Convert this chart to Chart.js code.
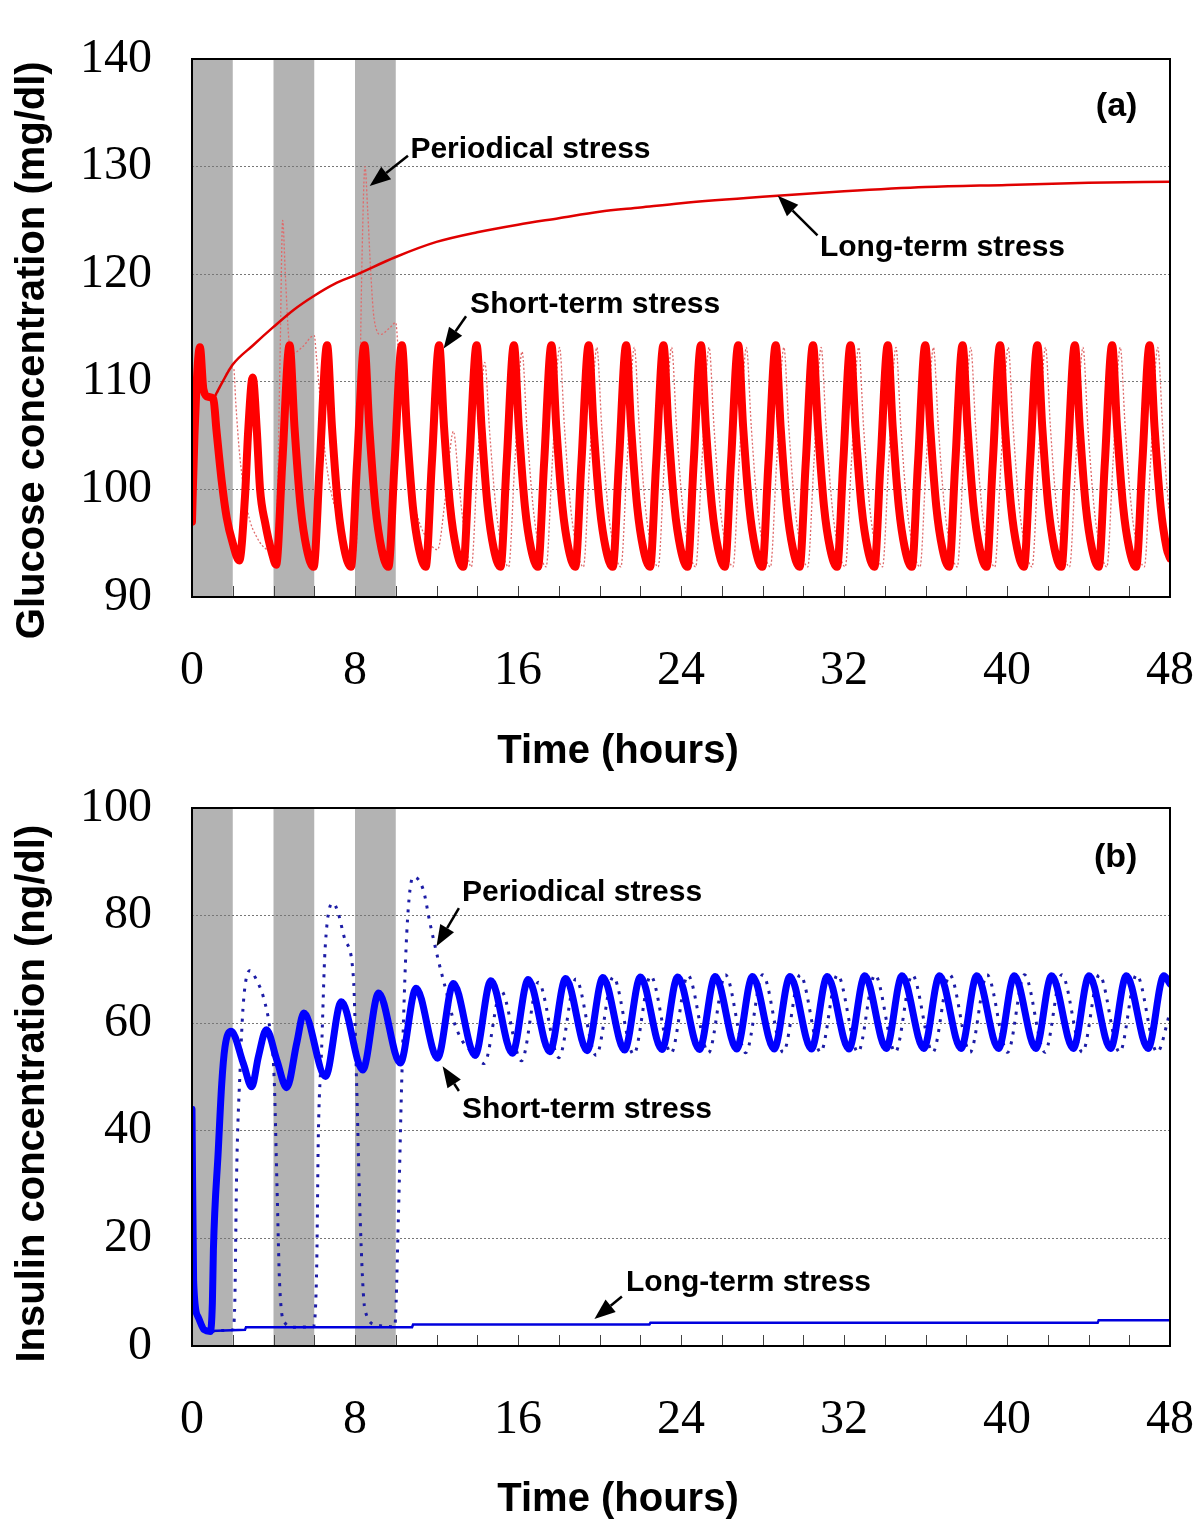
<!DOCTYPE html>
<html>
<head>
<meta charset="utf-8">
<script src="https://cdn.jsdelivr.net/npm/chart.js@4.4.0/dist/chart.umd.min.js"></script>
<style>
  body { margin: 0; background: #fff; }
  #chartA { position: absolute; left: 0; top: 0; }
  #chartB { position: absolute; left: 0; top: 775px; }
</style>
</head>
<body>
<canvas id="chartA" width="1200" height="775"></canvas>
<canvas id="chartB" width="1200" height="760"></canvas>
<script>
// stress periods (hours) shaded grey, and the small 2-hour tick marks
var stressBands = [[0, 2], [4, 6], [8, 10]];
var minorTicks = [2, 4, 6, 8, 10, 12, 14, 16, 18, 20, 22, 24, 26, 28, 30, 32, 34, 36, 38, 40, 42, 44, 46];

// (a) glucose, short-term stress (thick)
var gShortT = [0, 0.12, 0.39, 0.56, 0.8, 1.05, 1.2, 1.45, 1.7, 2.0, 2.32, 2.6, 2.76, 2.98, 3.18, 3.34, 3.59, 3.92,
    4.13, 4.43, 4.79, 5.03, 5.33, 5.63,
    5.97, 6.27, 6.63, 6.87, 7.17, 7.47,
    7.80, 8.10, 8.46, 8.70, 9.00, 9.30,
    9.64, 9.94, 10.30, 10.54, 10.84, 11.14,
    11.47, 11.77, 12.13, 12.37, 12.67, 12.97,
    13.31, 13.61, 13.97, 14.21, 14.51, 14.81,
    15.14, 15.44, 15.80, 16.04, 16.34, 16.64,
    16.98, 17.28, 17.64, 17.88, 18.18, 18.48,
    18.81, 19.11, 19.47, 19.71, 20.01, 20.31,
    20.65, 20.95, 21.31, 21.55, 21.85, 22.15,
    22.48, 22.78, 23.14, 23.38, 23.68, 23.98,
    24.32, 24.62, 24.98, 25.22, 25.52, 25.82,
    26.15, 26.45, 26.81, 27.05, 27.35, 27.65,
    27.99, 28.29, 28.65, 28.89, 29.19, 29.49,
    29.82, 30.12, 30.48, 30.72, 31.02, 31.32,
    31.66, 31.96, 32.32, 32.56, 32.86, 33.16,
    33.49, 33.79, 34.15, 34.39, 34.69, 34.99,
    35.33, 35.63, 35.99, 36.23, 36.53, 36.83,
    37.16, 37.46, 37.82, 38.06, 38.36, 38.66,
    39.00, 39.30, 39.66, 39.90, 40.20, 40.50,
    40.83, 41.13, 41.49, 41.73, 42.03, 42.33,
    42.67, 42.97, 43.33, 43.57, 43.87, 44.17,
    44.50, 44.80, 45.16, 45.40, 45.70, 46.00,
    46.34, 46.64, 47.00, 47.24, 47.54, 47.84,
    48.0];
var gShortV = [97, 105, 113.2, 109.3, 108.6, 108.4, 105.5, 100.9, 97.4, 95.0, 93.4, 99.3, 105.5, 110.4, 105.5, 100.0, 96.9, 94.1,
    93.0, 102.4, 113.4, 105.8, 98.4, 94.5,
    92.8, 102.4, 113.4, 105.8, 98.4, 94.5,
    92.8, 102.4, 113.4, 105.8, 98.4, 94.5,
    92.8, 102.4, 113.4, 105.8, 98.4, 94.5,
    92.8, 102.4, 113.4, 105.8, 98.4, 94.5,
    92.8, 102.4, 113.4, 105.8, 98.4, 94.5,
    92.8, 102.4, 113.4, 105.8, 98.4, 94.5,
    92.8, 102.4, 113.4, 105.8, 98.4, 94.5,
    92.8, 102.4, 113.4, 105.8, 98.4, 94.5,
    92.8, 102.4, 113.4, 105.8, 98.4, 94.5,
    92.8, 102.4, 113.4, 105.8, 98.4, 94.5,
    92.8, 102.4, 113.4, 105.8, 98.4, 94.5,
    92.8, 102.4, 113.4, 105.8, 98.4, 94.5,
    92.8, 102.4, 113.4, 105.8, 98.4, 94.5,
    92.8, 102.4, 113.4, 105.8, 98.4, 94.5,
    92.8, 102.4, 113.4, 105.8, 98.4, 94.5,
    92.8, 102.4, 113.4, 105.8, 98.4, 94.5,
    92.8, 102.4, 113.4, 105.8, 98.4, 94.5,
    92.8, 102.4, 113.4, 105.8, 98.4, 94.5,
    92.8, 102.4, 113.4, 105.8, 98.4, 94.5,
    92.8, 102.4, 113.4, 105.8, 98.4, 94.5,
    92.8, 102.4, 113.4, 105.8, 98.4, 94.5,
    92.8, 102.4, 113.4, 105.8, 98.4, 94.5,
    92.8, 102.4, 113.4, 105.8, 98.4, 94.5,
    93.6];

// (a) glucose, long-term stress
var gLongT = [1.05, 1.5, 2.0, 3.0, 4.0, 5.0, 6.0, 7.0, 8.0, 10.0, 12.0, 14.0, 16.0, 18.0, 20.0, 22.0, 24.0, 28.0, 32.0, 36.0, 40.0, 44.0, 48.0];
var gLongV = [108.4, 110.0, 111.6, 113.4, 115.1, 116.7, 118.0, 119.1, 119.9, 121.6, 123.0, 123.9, 124.6, 125.2, 125.8, 126.2, 126.6, 127.2, 127.7, 128.1, 128.3, 128.5, 128.6];

// (a) glucose, periodical stress (dotted)
var gPerT = [0, 0.12, 0.39, 0.56, 0.8, 1.05, 1.5, 1.9, 2.05, 2.15, 2.35, 2.75, 3.2, 3.7, 4.05, 4.2, 4.32, 4.45, 4.58, 4.75,
    4.9, 5.4, 6.0, 6.1, 6.28, 6.53, 6.8, 7.26, 7.75, 8.05, 8.2, 8.35, 8.49, 8.62, 8.75, 8.9, 9.06, 9.25, 9.7, 10.0,
    10.1, 10.3, 10.6, 11.0, 11.5, 12.05, 12.45, 12.83, 13.1, 13.4,
    13.71, 14.01, 14.37, 14.61, 14.91, 15.21,
    15.54, 15.84, 16.20, 16.44, 16.74, 17.04,
    17.38, 17.68, 18.04, 18.28, 18.58, 18.88,
    19.21, 19.51, 19.87, 20.11, 20.41, 20.71,
    21.05, 21.35, 21.71, 21.95, 22.25, 22.55,
    22.88, 23.18, 23.54, 23.78, 24.08, 24.38,
    24.72, 25.02, 25.38, 25.62, 25.92, 26.22,
    26.55, 26.85, 27.21, 27.45, 27.75, 28.05,
    28.39, 28.69, 29.05, 29.29, 29.59, 29.89,
    30.22, 30.52, 30.88, 31.12, 31.42, 31.72,
    32.06, 32.36, 32.72, 32.96, 33.26, 33.56,
    33.89, 34.19, 34.55, 34.79, 35.09, 35.39,
    35.73, 36.03, 36.39, 36.63, 36.93, 37.23,
    37.56, 37.86, 38.22, 38.46, 38.76, 39.06,
    39.40, 39.70, 40.06, 40.30, 40.60, 40.90,
    41.23, 41.53, 41.89, 42.13, 42.43, 42.73,
    43.07, 43.37, 43.73, 43.97, 44.27, 44.57,
    44.90, 45.20, 45.56, 45.80, 46.10, 46.40,
    46.74, 47.04, 47.40, 47.64, 47.94, 48.0];
var gPerV = [97, 105, 113.2, 109.3, 108.6, 108.4, 110.0, 111.3, 111.2, 108, 103, 97.8, 95.5, 94.4, 94.3, 100, 112, 125, 120, 114,
    112.6, 113.2, 114.3, 112.5, 108.6, 103.4, 100.0, 96.9, 94.1, 94.3, 105, 122, 130.0, 126, 121, 116.5, 114.8, 114.4, 115.0, 115.5,
    113.5, 108.5, 102.5, 98.0, 95.5, 94.4, 99.5, 105.4, 100.5, 95.5,
    92.8, 102.4, 111.8, 105.3, 98.4, 94.5,
    92.8, 102.4, 112.8, 105.6, 98.4, 94.5,
    92.8, 102.4, 113.2, 105.8, 98.4, 94.5,
    92.8, 102.4, 113.2, 105.8, 98.4, 94.5,
    92.8, 102.4, 113.2, 105.8, 98.4, 94.5,
    92.8, 102.4, 113.2, 105.8, 98.4, 94.5,
    92.8, 102.4, 113.2, 105.8, 98.4, 94.5,
    92.8, 102.4, 113.2, 105.8, 98.4, 94.5,
    92.8, 102.4, 113.2, 105.8, 98.4, 94.5,
    92.8, 102.4, 113.2, 105.8, 98.4, 94.5,
    92.8, 102.4, 113.2, 105.8, 98.4, 94.5,
    92.8, 102.4, 113.2, 105.8, 98.4, 94.5,
    92.8, 102.4, 113.2, 105.8, 98.4, 94.5,
    92.8, 102.4, 113.2, 105.8, 98.4, 94.5,
    92.8, 102.4, 113.2, 105.8, 98.4, 94.5,
    92.8, 102.4, 113.2, 105.8, 98.4, 94.5,
    92.8, 102.4, 113.2, 105.8, 98.4, 94.5,
    92.8, 102.4, 113.2, 105.8, 98.4, 94.5,
    92.8, 102.4, 113.2, 105.8, 98.4, 97.9];

// (b) insulin, short-term stress (thick)
var iShortT = [0, 0.08, 0.3, 0.6, 0.9, 1.0, 1.05, 1.29, 1.46, 1.62, 1.92, 2.52, 2.93, 3.26, 3.65, 4.16, 4.65, 5.14, 5.49,
    6.55, 7.33, 8.38, 9.16, 10.22, 11.00, 12.05, 12.83, 13.89, 14.67, 15.72, 16.50,
    17.56, 18.34, 19.39, 20.17, 21.23, 22.01, 23.06, 23.84, 24.90, 25.68, 26.73, 27.51,
    28.57, 29.35, 30.40, 31.18, 32.24, 33.02, 34.07, 34.85, 35.91, 36.69, 37.74, 38.52,
    39.58, 40.36, 41.41, 42.19, 43.25, 44.03, 45.08, 45.86, 46.92, 47.70, 48.0];
var iShortV = [44, 12, 5.4, 3.0, 2.7, 8, 17.8, 36.4, 48.8, 55.6, 58.5, 52.5, 48.2, 53.8, 58.8, 53.2, 48.0, 56.3, 61.9,
    50.1, 64.0, 51.3, 65.6, 52.6, 66.5, 53.5, 67.4, 54.0, 67.9, 54.4, 68.1,
    54.7, 68.3, 54.9, 68.5, 55.0, 68.6, 55.1, 68.6, 55.1, 68.7, 55.2, 68.7,
    55.2, 68.7, 55.2, 68.7, 55.2, 68.8, 55.3, 68.8, 55.3, 68.8, 55.3, 68.8,
    55.3, 68.8, 55.3, 68.8, 55.3, 68.8, 55.3, 68.8, 55.3, 68.8, 67.3];

// (b) insulin, long-term stress
var iLongT = [0.9, 2.6, 2.65, 10.8, 10.85, 22.45, 22.5, 44.45, 44.5, 48.0];
var iLongV = [2.8, 3.0, 3.5, 3.5, 4.0, 4.0, 4.3, 4.3, 4.8, 4.8];

// (b) insulin, periodical stress (dotted)
var iPerT = [0, 0.08, 0.3, 0.6, 0.9, 1.5, 2.0, 2.1, 2.19, 2.36, 2.52, 2.85, 3.17, 3.5, 3.83, 4.03, 4.17, 4.3, 4.56, 5.0,
    5.95, 6.12, 6.2, 6.36, 6.53, 6.94, 7.18, 7.51, 7.92, 8.08, 8.25, 8.49, 9.06, 9.95, 10.13, 10.29, 10.54, 10.86, 11.35, 11.68,
    12.09, 12.5, 12.83, 13.3, 13.8, 14.34,
    15.17, 16.17, 17.00, 18.01, 18.84, 19.84, 20.67, 21.68, 22.51, 23.51, 24.34, 25.35,
    26.18, 27.18, 28.01, 29.02, 29.85, 30.85, 31.68, 32.69, 33.52, 34.52, 35.35, 36.36,
    37.19, 38.19, 39.02, 40.03, 40.86, 41.86, 42.69, 43.70, 44.53, 45.53, 46.36, 47.37, 48.0];
var iPerV = [44, 12, 5.4, 3.0, 2.7, 2.9, 3.0, 8, 32, 51.3, 63.7, 69.8, 68.0, 64.9, 58.7, 50, 30, 11.6, 4.3, 3.5,
    3.6, 14.7, 38.9, 55.0, 73.6, 82.3, 80.4, 75.5, 68.6, 48.8, 24.0, 6.7, 3.9, 3.6, 24.0, 48.8, 76.7, 87.2, 84.8, 78.6,
    71.7, 65.6, 60.6, 56.5, 54.5, 52.5,
    66.0, 53.0, 67.6, 53.6, 68.2, 54.0, 68.6, 54.2, 68.8, 54.4, 68.9, 54.5,
    69.0, 54.5, 69.0, 54.6, 69.0, 54.6, 69.0, 54.6, 69.0, 54.6, 69.0, 54.6,
    69.0, 54.6, 69.0, 54.6, 69.0, 54.6, 69.0, 54.6, 69.0, 54.6, 69.0, 54.6, 62.0];

// callouts: text left/middle, arrow tail and arrow tip, all in (hours, value)
var notesA = [
    { text: "Periodical stress", at: [10.72, 131.6], tail: [10.6, 131.0], tip: [8.72, 128.2] },
    { text: "Long-term stress", at: [30.82, 122.5], tail: [30.7, 123.6], tip: [28.75, 127.3] },
    { text: "Short-term stress", at: [13.65, 117.2], tail: [13.45, 116.1], tip: [12.35, 113.1] }
];
var notesB = [
    { text: "Periodical stress", at: [13.25, 84.2], tail: [13.1, 81.4], tip: [12.0, 74.3] },
    { text: "Short-term stress", at: [13.25, 43.9], tail: [13.1, 47.4], tip: [12.3, 52.0] },
    { text: "Long-term stress", at: [21.3, 11.7], tail: [21.1, 9.2], tip: [19.75, 5.0] }
];

function pts(ts, vs) {
    return ts.map(function (t, i) { return { x: t, y: vs[i] }; });
}

function arrow(ctx, x0, y0, x1, y1) {
    var ang = Math.atan2(y1 - y0, x1 - x0), L = 21, W = 8;
    var bx = x1 - L * Math.cos(ang), by = y1 - L * Math.sin(ang);
    ctx.lineWidth = 2.5;
    ctx.beginPath(); ctx.moveTo(x0, y0); ctx.lineTo(bx, by); ctx.stroke();
    ctx.beginPath();
    ctx.moveTo(x1, y1);
    ctx.lineTo(bx + W * Math.sin(ang), by - W * Math.cos(ang));
    ctx.lineTo(bx - W * Math.sin(ang), by + W * Math.cos(ang));
    ctx.closePath(); ctx.fill();
}

var panelDecor = {
    id: "panelDecor",
    beforeDraw: function (chart) {
        var ctx = chart.ctx, a = chart.chartArea, x = chart.scales.x;
        ctx.save();
        ctx.fillStyle = "#b3b3b3";
        stressBands.forEach(function (b) {
            var x0 = x.getPixelForValue(b[0]), x1 = x.getPixelForValue(b[1]);
            ctx.fillRect(x0, a.top, x1 - x0, a.bottom - a.top);
        });
        ctx.restore();
    },
    afterDraw: function (chart, args, opts) {
        var ctx = chart.ctx, a = chart.chartArea, x = chart.scales.x, y = chart.scales.y;
        ctx.save();
        ctx.strokeStyle = "#444";
        ctx.lineWidth = 1;
        minorTicks.forEach(function (t) {
            var px = Math.round(x.getPixelForValue(t)) + 0.5;
            ctx.beginPath(); ctx.moveTo(px, a.bottom); ctx.lineTo(px, a.bottom - 11); ctx.stroke();
        });
        ctx.strokeStyle = "#000";
        ctx.lineWidth = 2;
        ctx.strokeRect(a.left, a.top, a.right - a.left, a.bottom - a.top);

        ctx.fillStyle = "#000";
        ctx.textBaseline = "middle";
        ctx.textAlign = "left";
        ctx.font = "bold 30px 'Liberation Sans', Arial, sans-serif";
        opts.notes.forEach(function (n) {
            ctx.fillText(n.text, x.getPixelForValue(n.at[0]), y.getPixelForValue(n.at[1]));
            arrow(ctx, x.getPixelForValue(n.tail[0]), y.getPixelForValue(n.tail[1]),
                x.getPixelForValue(n.tip[0]), y.getPixelForValue(n.tip[1]));
        });
        ctx.textAlign = "right";
        ctx.font = "bold 34px 'Liberation Sans', Arial, sans-serif";
        ctx.fillText(opts.tag, x.getPixelForValue(opts.tagAt[0]), y.getPixelForValue(opts.tagAt[1]));

        // x axis title sits left of the plot centre in the original
        ctx.textAlign = "center";
        ctx.font = "bold 40px 'Liberation Sans', Arial, sans-serif";
        ctx.fillText("Time (hours)", (a.left + a.right) / 2 - 63, opts.xTitleY);
        ctx.restore();
    }
};

var tickFont = { family: "'Liberation Serif', 'DejaVu Serif', serif", size: 48 };
var titleFont = { family: "'Liberation Sans', Arial, sans-serif", size: 40, weight: "bold", lineHeight: 1.15 };

function panelOptions(yMin, yMax, yStep, yTitle, xAxisH, xTitleY, topPad, notes, tag, tagAt) {
    return {
        responsive: false,
        animation: false,
        layout: { padding: { top: topPad, right: 30, left: 0, bottom: 0 } },
        plugins: {
            legend: { display: false },
            tooltip: { enabled: false },
            panelDecor: { notes: notes, tag: tag, tagAt: tagAt, xTitleY: xTitleY }
        },
        elements: { point: { radius: 0 } },
        scales: {
            x: {
                type: "linear",
                min: 0,
                max: 48,
                afterFit: function (s) { s.height = xAxisH; s.paddingLeft = 0; s.paddingRight = 0; },
                grid: { display: false, drawTicks: false },
                border: { display: false },
                ticks: { stepSize: 8, padding: 46, color: "#000", font: tickFont, maxRotation: 0, autoSkip: false }
            },
            y: {
                min: yMin,
                max: yMax,
                afterFit: function (s) { s.width = 192; s.paddingTop = 0; s.paddingBottom = 0; },
                grid: { color: "#777", lineWidth: 1, drawTicks: false },
                border: { display: false, dash: [2, 2] },
                ticks: { stepSize: yStep, padding: 40, color: "#000", font: tickFont },
                title: { display: true, text: yTitle, color: "#000", font: titleFont, padding: { top: 10, bottom: 0 } }
            }
        }
    };
}

new Chart("chartA", {
    type: "line",
    data: {
        datasets: [{
            label: "Short-term stress",
            data: pts(gShortT, gShortV),
            borderColor: "#ff0000",
            borderWidth: 8,
            borderJoinStyle: "round",
            borderCapStyle: "round",
            cubicInterpolationMode: "monotone",
            clip: 0,
            order: 0
        }, {
            label: "Long-term stress",
            data: pts(gLongT, gLongV),
            borderColor: "#e00000",
            borderWidth: 2.5,
            cubicInterpolationMode: "monotone",
            clip: 0,
            order: 1
        }, {
            label: "Periodical stress",
            data: pts(gPerT, gPerV),
            borderColor: "#e06a6a",
            borderWidth: 1.3,
            borderDash: [2, 2],
            cubicInterpolationMode: "monotone",
            clip: 0,
            order: 2
        }]
    },
    options: panelOptions(90, 140, 10, "Glucose concentration (mg/dl)    ", 178, 752, 59, notesA, "(a)", [46.4, 135.6]),
    plugins: [panelDecor]
});

new Chart("chartB", {
    type: "line",
    data: {
        datasets: [{
            label: "Short-term stress",
            data: pts(iShortT, iShortV),
            borderColor: "#0000ff",
            borderWidth: 7,
            borderJoinStyle: "round",
            borderCapStyle: "round",
            cubicInterpolationMode: "monotone",
            clip: 0,
            order: 0
        }, {
            label: "Long-term stress",
            data: pts(iLongT, iLongV),
            borderColor: "#0000dd",
            borderWidth: 2.5,
            clip: 0,
            order: 1
        }, {
            label: "Periodical stress",
            data: pts(iPerT, iPerV),
            borderColor: "#1c1ca6",
            borderWidth: 3,
            borderDash: [3, 7],
            cubicInterpolationMode: "monotone",
            clip: 0,
            order: 2
        }]
    },
    options: panelOptions(0, 100, 20, "Insulin concentration (ng/dl)   ", 189, 725, 33, notesB, "(b)", [46.4, 90.7]),
    plugins: [panelDecor]
});
</script>
</body>
</html>
